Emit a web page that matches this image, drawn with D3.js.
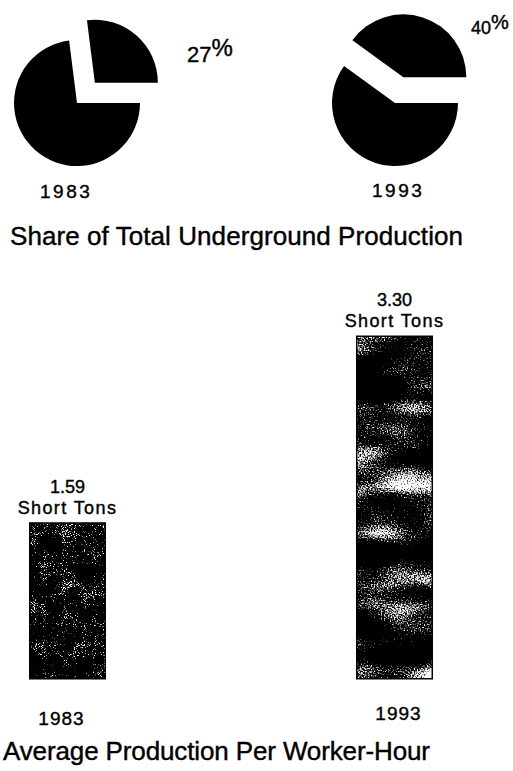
<!DOCTYPE html>
<html>
<head>
<meta charset="utf-8">
<script src="https://cdn.jsdelivr.net/npm/d3@7"></script>
<style>
  body { margin: 0; background: #fff; }
  text { font-family: "Liberation Sans", Arial, sans-serif; fill: #000; stroke: #000; stroke-width: 0.4px; }
</style>
</head>
<body>
<svg width="513" height="771"></svg>
<script>
const width = 513;
const height = 771;

// data
const years = ["1983", "1993"];
const undergroundShare = [27, 40]; // percent of total underground production
const perWorkerHour = [1.59, 3.30]; // short tons per worker-hour
const unitLabel = "Short Tons";
const pieTitle = "Share of Total Underground Production";
const barTitle = "Average Production Per Worker-Hour";

const svg = d3.select("svg");

svg.append("rect").attr("width", width).attr("height", height).attr("fill", "#fff");

// halftone-ish grain for the bars
const defs = svg.append("defs");

function grain(id, lowFreq, highFreq, lowW, highW, slope, intercept) {
  let f = defs.append("filter")
    .attr("id", id)
    .attr("x", 0).attr("y", 0).attr("width", 1).attr("height", 1)
    .attr("color-interpolation-filters", "sRGB");
  f.append("feTurbulence")
    .attr("type", "fractalNoise").attr("baseFrequency", lowFreq)
    .attr("numOctaves", 2).attr("seed", 7).attr("result", "lo");
  f.append("feColorMatrix").attr("in", "lo").attr("type", "matrix")
    .attr("values", "1 0 0 0 0 1 0 0 0 0 1 0 0 0 0 0 0 0 0 1").attr("result", "lo2");
  f.append("feTurbulence")
    .attr("type", "fractalNoise").attr("baseFrequency", highFreq)
    .attr("numOctaves", 1).attr("seed", 3).attr("result", "hi");
  f.append("feColorMatrix").attr("in", "hi").attr("type", "matrix")
    .attr("values", "1 0 0 0 0 1 0 0 0 0 1 0 0 0 0 0 0 0 0 1").attr("result", "hi2");
  f.append("feComposite").attr("in", "lo2").attr("in2", "hi2")
    .attr("operator", "arithmetic")
    .attr("k1", 0).attr("k2", lowW).attr("k3", highW).attr("k4", 1 - lowW - highW)
    .attr("result", "mix");
  f.append("feColorMatrix").attr("in", "mix").attr("type", "matrix")
    .attr("values", "0 0 0 0 1 0 0 0 0 1 0 0 0 0 1 1 0 0 0 0").attr("result", "white");
  let ct = f.append("feComponentTransfer").attr("in", "white").attr("result", "spots");
  ct.append("feFuncA").attr("type", "linear").attr("slope", slope).attr("intercept", intercept);
  f.append("feComposite").attr("in", "spots").attr("in2", "SourceGraphic").attr("operator", "in");
}
grain("grain0", "0.05", "0.9", 0.3, 0.7, 12, -7.1);
grain("grain1", "0.012 0.03", "0.7", 0.75, 0.45, 9, -3.9);

// ---- pies ----
const radius = 63;
const explode = 27;
const pieX = d3.scalePoint().domain(years).range([77, 395]);
const pieY = 103;

const pie = d3.pie()
  .sort(null)
  .startAngle(Math.PI / 2)
  .endAngle(Math.PI / 2 + 2 * Math.PI);

const arc = d3.arc().innerRadius(0).outerRadius(radius);

const pctOffset = [[110, -41], [76, -69]];
const pctSize = [22, 18];

years.forEach((yr, i) => {
  const g = svg.append("g")
    .attr("transform", `translate(${pieX(yr)},${pieY})`);
  const slices = pie([100 - undergroundShare[i], undergroundShare[i]]);

  g.selectAll("path")
    .data(slices)
    .join("path")
    .attr("d", arc)
    .attr("fill", "#000")
    .attr("transform", (d, j) => {
      if (j === 0) return null;
      const a = (d.startAngle + d.endAngle) / 2;
      return `translate(${Math.sin(a) * explode},${-Math.cos(a) * explode})`;
    });

  const t = g.append("text")
    .attr("x", pctOffset[i][0])
    .attr("y", pctOffset[i][1])
    .style("font-size", pctSize[i] + "px");
  t.append("tspan").text(undergroundShare[i]);
  t.append("tspan")
    .attr("dy", -(pctSize[i] * 0.28))
    .style("font-size", (pctSize[i] + 2) + "px")
    .text("%");

  g.append("text")
    .attr("x", i === 0 ? -37 : -23)
    .attr("y", 95 - i)
    .style("font-size", "19px")
    .style("letter-spacing", "2.5px")
    .text(yr);
});

svg.append("text")
  .attr("x", 10)
  .attr("y", 245)
  .style("font-size", "26px")
  .attr("textLength", 453)
  .text(pieTitle);

// ---- bars ----
const barW = 76;
const barX = d3.scalePoint().domain(years).range([67.5, 394.5]);
const barY = d3.scaleLinear().domain([0.16, 3.30]).range([679, 336]);
const base = barY(0.16);

const bars = svg.append("g")
  .selectAll("g")
  .data(years)
  .join("g");

bars.append("rect")
  .attr("x", d => barX(d) - barW / 2)
  .attr("y", (d, i) => barY(perWorkerHour[i]))
  .attr("width", barW)
  .attr("height", (d, i) => base - barY(perWorkerHour[i]))
  .attr("fill", "#000")
  .attr("stroke", "#000")
  .attr("stroke-width", 1);

bars.append("rect")
  .attr("x", d => barX(d) - barW / 2 + 1)
  .attr("y", (d, i) => barY(perWorkerHour[i]) + 1)
  .attr("width", barW - 2)
  .attr("height", (d, i) => base - barY(perWorkerHour[i]) - 2)
  .attr("fill", "#fff")
  .attr("filter", (d, i) => `url(#grain${i})`);

bars.append("text")
  .attr("x", d => barX(d))
  .attr("y", (d, i) => barY(perWorkerHour[i]) - 30)
  .attr("text-anchor", "middle")
  .style("font-size", "18px")
  .text((d, i) => d3.format(".2f")(perWorkerHour[i]));

bars.append("text")
  .attr("x", d => barX(d))
  .attr("y", (d, i) => barY(perWorkerHour[i]) - 9)
  .attr("text-anchor", "middle")
  .style("font-size", "18px")
  .style("letter-spacing", "1.4px")
  .text(unitLabel);

bars.append("text")
  .attr("x", (d, i) => barX(d) + (i === 0 ? -6 : 4))
  .attr("y", (d, i) => base + 46 - i * 5)
  .attr("text-anchor", "middle")
  .style("font-size", "19px")
  .style("letter-spacing", "1px")
  .text(d => d);

svg.append("text")
  .attr("x", 3)
  .attr("y", 760)
  .style("font-size", "26px")
  .attr("textLength", 427)
  .text(barTitle);
</script>
</body>
</html>
